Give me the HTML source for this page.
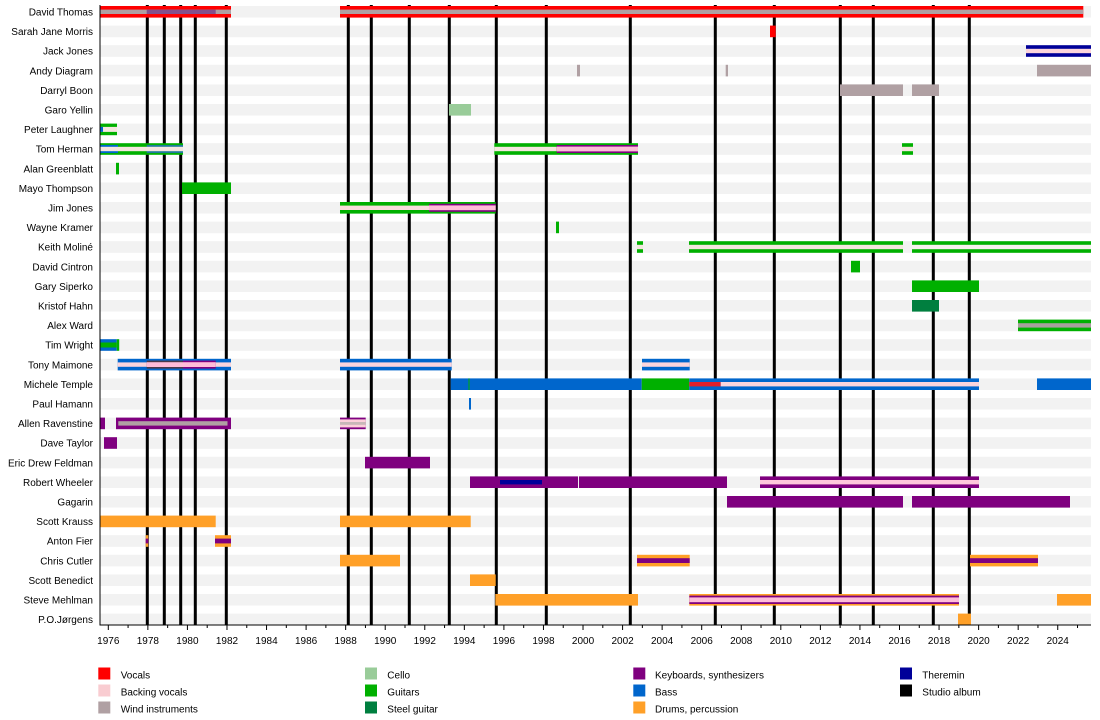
<!DOCTYPE html>
<html><head><meta charset="utf-8"><style>
html,body{margin:0;padding:0;background:#fff;}
svg{display:block;font-family:"Liberation Sans",Arial,sans-serif;}
</style></head><body>
<svg width="1100" height="720" viewBox="0 0 1100 720" xmlns="http://www.w3.org/2000/svg">
<rect x="0" y="0" width="1100" height="720" fill="#fff"/>
<!-- background bands -->
<g fill="#f2f2f2">
<rect x="100" y="6.0" width="991" height="11.6"/>
<rect x="100" y="25.6" width="991" height="11.6"/>
<rect x="100" y="45.2" width="991" height="11.6"/>
<rect x="100" y="64.8" width="991" height="11.6"/>
<rect x="100" y="84.4" width="991" height="11.6"/>
<rect x="100" y="104.0" width="991" height="11.6"/>
<rect x="100" y="123.6" width="991" height="11.6"/>
<rect x="100" y="143.2" width="991" height="11.6"/>
<rect x="100" y="162.8" width="991" height="11.6"/>
<rect x="100" y="182.4" width="991" height="11.6"/>
<rect x="100" y="202.0" width="991" height="11.6"/>
<rect x="100" y="221.6" width="991" height="11.6"/>
<rect x="100" y="241.2" width="991" height="11.6"/>
<rect x="100" y="260.8" width="991" height="11.6"/>
<rect x="100" y="280.4" width="991" height="11.6"/>
<rect x="100" y="300.0" width="991" height="11.6"/>
<rect x="100" y="319.6" width="991" height="11.6"/>
<rect x="100" y="339.2" width="991" height="11.6"/>
<rect x="100" y="358.8" width="991" height="11.6"/>
<rect x="100" y="378.4" width="991" height="11.6"/>
<rect x="100" y="398.0" width="991" height="11.6"/>
<rect x="100" y="417.6" width="991" height="11.6"/>
<rect x="100" y="437.2" width="991" height="11.6"/>
<rect x="100" y="456.8" width="991" height="11.6"/>
<rect x="100" y="476.4" width="991" height="11.6"/>
<rect x="100" y="496.0" width="991" height="11.6"/>
<rect x="100" y="515.6" width="991" height="11.6"/>
<rect x="100" y="535.2" width="991" height="11.6"/>
<rect x="100" y="554.8" width="991" height="11.6"/>
<rect x="100" y="574.4" width="991" height="11.6"/>
<rect x="100" y="594.0" width="991" height="11.6"/>
<rect x="100" y="613.6" width="991" height="11.6"/>
</g>
<!-- album lines -->
<g fill="#000">
<rect x="145.8" y="5" width="3" height="620"/>
<rect x="162.8" y="5" width="3" height="620"/>
<rect x="179.2" y="5" width="3" height="620"/>
<rect x="193.8" y="5" width="3" height="620"/>
<rect x="224.8" y="5" width="3" height="620"/>
<rect x="346.8" y="5" width="3" height="620"/>
<rect x="369.8" y="5" width="3" height="620"/>
<rect x="407.8" y="5" width="3" height="620"/>
<rect x="447.8" y="5" width="3" height="620"/>
<rect x="494.8" y="5" width="3" height="620"/>
<rect x="544.8" y="5" width="3" height="620"/>
<rect x="628.8" y="5" width="3" height="620"/>
<rect x="713.8" y="5" width="3" height="620"/>
<rect x="772.8" y="5" width="3" height="620"/>
<rect x="838.8" y="5" width="3" height="620"/>
<rect x="871.8" y="5" width="3" height="620"/>
<rect x="931.8" y="5" width="3" height="620"/>
<rect x="967.8" y="5" width="3" height="620"/>
</g>
<!-- bars -->
<!-- 0 David Thomas -->
<rect x="100.5" y="6.0" width="130.5" height="11.6" fill="#ff0000"/>
<rect x="100.5" y="9.6" width="130.5" height="4.4" fill="#b0a0a3"/>
<rect x="146.7" y="9.6" width="69" height="4.4" fill="#84508c"/>
<rect x="340" y="6.0" width="743.3" height="11.6" fill="#ff0000"/>
<rect x="340" y="9.6" width="743.3" height="4.4" fill="#b0a0a3"/>
<!-- 1 Sarah Jane Morris -->
<rect x="770" y="25.6" width="5.7" height="11.6" fill="#ff0000"/>
<!-- 2 Jack Jones -->
<rect x="1026" y="45.2" width="65" height="11.6" fill="#000099"/>
<rect x="1026" y="48.8" width="65" height="4.4" fill="#fcd5dc"/>
<!-- 3 Andy Diagram -->
<rect x="577" y="64.8" width="3" height="11.6" fill="#b0a0a3"/>
<rect x="725.7" y="64.8" width="2.3" height="11.6" fill="#b0a0a3"/>
<rect x="1037" y="64.8" width="54" height="11.6" fill="#b0a0a3"/>
<!-- 4 Darryl Boon -->
<rect x="840" y="84.4" width="63" height="11.6" fill="#b0a0a3"/>
<rect x="912" y="84.4" width="27" height="11.6" fill="#b0a0a3"/>
<!-- 5 Garo Yellin -->
<rect x="449" y="104.0" width="22" height="11.6" fill="#99cc99"/>
<!-- 6 Peter Laughner -->
<rect x="100.5" y="123.6" width="16.5" height="11.6" fill="#00b000"/>
<rect x="100.5" y="126.9" width="16.5" height="5" fill="#f5e6df"/>
<rect x="100.5" y="126.9" width="2.5" height="5" fill="#0066cc"/>
<!-- 7 Tom Herman -->
<rect x="100.5" y="143.2" width="82.5" height="11.6" fill="#00b000"/>
<rect x="100.5" y="145.0" width="17.5" height="8" fill="#0066cc"/>
<rect x="146.7" y="145.0" width="36.3" height="8" fill="#1f7a9a"/>
<rect x="100.5" y="146.8" width="82.5" height="4.4" fill="#f5e6df"/>
<rect x="494.3" y="143.2" width="143.7" height="11.6" fill="#00b000"/>
<rect x="494.3" y="146.8" width="62.4" height="4.4" fill="#f5e6df"/>
<rect x="556.7" y="145.0" width="81.3" height="8" fill="#7f007f"/>
<rect x="556.7" y="146.6" width="81.3" height="4.8" fill="#ffbcd8"/>
<rect x="902" y="143.2" width="11" height="11.6" fill="#00b000"/>
<rect x="902" y="146.8" width="11" height="4.4" fill="#f5e6df"/>
<!-- 8 Alan Greenblatt -->
<rect x="116" y="162.8" width="3" height="11.6" fill="#00b000"/>
<!-- 9 Mayo Thompson -->
<rect x="182" y="182.4" width="49" height="11.6" fill="#00b000"/>
<!-- 10 Jim Jones -->
<rect x="340" y="202.0" width="155.7" height="11.6" fill="#00b000"/>
<rect x="340" y="205.6" width="89" height="4.4" fill="#f8dcdc"/>
<rect x="429" y="203.8" width="66.7" height="8" fill="#7f007f"/>
<rect x="429" y="205.4" width="66.7" height="4.8" fill="#ffbcd8"/>
<!-- 11 Wayne Kramer -->
<rect x="556" y="221.6" width="3" height="11.6" fill="#00b000"/>
<!-- 12 Keith Moliné -->
<rect x="637" y="241.2" width="6" height="11.6" fill="#00b000"/>
<rect x="637" y="244.8" width="6" height="4.4" fill="#f5e6df"/>
<rect x="689" y="241.2" width="214" height="11.6" fill="#00b000"/>
<rect x="689" y="244.8" width="214" height="4.4" fill="#f5e6df"/>
<rect x="912" y="241.2" width="179" height="11.6" fill="#00b000"/>
<rect x="912" y="244.8" width="179" height="4.4" fill="#f7f1ee"/>
<!-- 13 David Cintron -->
<rect x="851" y="260.8" width="9" height="11.6" fill="#00b000"/>
<!-- 14 Gary Siperko -->
<rect x="912" y="280.4" width="67" height="11.6" fill="#00b000"/>
<!-- 15 Kristof Hahn -->
<rect x="912" y="300.0" width="27" height="11.6" fill="#007f3f"/>
<!-- 16 Alex Ward -->
<rect x="1018" y="319.6" width="73" height="11.6" fill="#00b000"/>
<rect x="1018" y="323.2" width="73" height="4.4" fill="#a8a09c"/>
<!-- 17 Tim Wright -->
<rect x="100.5" y="339.2" width="16.2" height="11.6" fill="#0066cc"/>
<rect x="100.5" y="342.5" width="16.2" height="5" fill="#00b000"/>
<rect x="116.7" y="339.2" width="2.5" height="11.6" fill="#00b000"/>
<!-- 18 Tony Maimone -->
<rect x="117.7" y="358.8" width="113.3" height="11.6" fill="#0066cc"/>
<rect x="117.7" y="362.4" width="113.3" height="4.4" fill="#fcd5dc"/>
<rect x="146.7" y="360.6" width="36.3" height="8" fill="#4a3a4a"/>
<rect x="183" y="360.6" width="32.7" height="8" fill="#7f007f"/>
<rect x="146.7" y="362.2" width="69" height="4.8" fill="#ffbcd8"/>
<rect x="340" y="358.8" width="111.7" height="11.6" fill="#0066cc"/>
<rect x="340" y="362.4" width="111.7" height="4.4" fill="#fcd5dc"/>
<rect x="642" y="358.8" width="47.7" height="11.6" fill="#0066cc"/>
<rect x="642" y="362.4" width="47.7" height="4.4" fill="#fcd5dc"/>
<!-- 19 Michele Temple -->
<rect x="450.7" y="378.4" width="191" height="11.6" fill="#0066cc"/>
<rect x="468.5" y="378.4" width="1" height="11.6" fill="#00b000"/>
<rect x="641.7" y="378.4" width="47.6" height="11.6" fill="#00b000"/>
<rect x="689.3" y="378.4" width="289.7" height="11.6" fill="#0066cc"/>
<rect x="689.3" y="382.0" width="31.4" height="4.4" fill="#e0202a"/>
<rect x="720.7" y="382.0" width="258.3" height="4.4" fill="#fcd5dc"/>
<rect x="1037" y="378.4" width="54" height="11.6" fill="#0066cc"/>
<!-- 20 Paul Hamann -->
<rect x="469" y="398.0" width="2" height="11.6" fill="#0066cc"/>
<!-- 21 Allen Ravenstine -->
<rect x="100.5" y="417.6" width="4.5" height="11.6" fill="#7f007f"/>
<rect x="116" y="417.6" width="115" height="11.6" fill="#7f007f"/>
<rect x="118.3" y="421.2" width="109.2" height="4.4" fill="#b0a0a3"/>
<rect x="340" y="417.6" width="25.7" height="11.6" fill="#7f007f"/>
<rect x="340" y="419.4" width="25.7" height="8" fill="#fcd0da"/>
<rect x="340" y="422.0" width="25.7" height="2.8" fill="#c8b8b8"/>
<!-- 22 Dave Taylor -->
<rect x="104" y="437.2" width="13" height="11.6" fill="#7f007f"/>
<!-- 23 Eric Drew Feldman -->
<rect x="365" y="456.8" width="65" height="11.6" fill="#7f007f"/>
<!-- 24 Robert Wheeler -->
<rect x="470" y="476.4" width="108" height="11.6" fill="#7f007f"/>
<rect x="579" y="476.4" width="148" height="11.6" fill="#7f007f"/>
<rect x="500" y="480.0" width="42" height="4.4" fill="#000099"/>
<rect x="760" y="476.4" width="219" height="11.6" fill="#7f007f"/>
<rect x="760" y="480.0" width="219" height="4.4" fill="#ffc8dc"/>
<!-- 25 Gagarin -->
<rect x="727" y="496.0" width="176" height="11.6" fill="#7f007f"/>
<rect x="912" y="496.0" width="158" height="11.6" fill="#7f007f"/>
<!-- 26 Scott Krauss -->
<rect x="100.5" y="515.6" width="115.2" height="11.6" fill="#ffa028"/>
<rect x="340" y="515.6" width="130.7" height="11.6" fill="#ffa028"/>
<!-- 27 Anton Fier -->
<rect x="145.7" y="535.2" width="2.6" height="11.6" fill="#ffa028"/>
<rect x="145.7" y="538.6" width="2.6" height="4.8" fill="#7f007f"/>
<rect x="215" y="535.2" width="16" height="11.6" fill="#ffa028"/>
<rect x="215" y="538.6" width="16" height="4.8" fill="#7f007f"/>
<!-- 28 Chris Cutler -->
<rect x="340" y="554.8" width="60" height="11.6" fill="#ffa028"/>
<rect x="637" y="554.8" width="52.7" height="11.6" fill="#ffa028"/>
<rect x="637" y="558.2" width="52.7" height="4.8" fill="#7f007f"/>
<rect x="970" y="554.8" width="68" height="11.6" fill="#ffa028"/>
<rect x="970" y="558.2" width="68" height="4.8" fill="#7f007f"/>
<!-- 29 Scott Benedict -->
<rect x="470" y="574.4" width="25.7" height="11.6" fill="#ffa028"/>
<!-- 30 Steve Mehlman -->
<rect x="495.3" y="594.0" width="142.7" height="11.6" fill="#ffa028"/>
<rect x="689.3" y="594.0" width="269.7" height="11.6" fill="#ffa028"/>
<rect x="689.3" y="595.6" width="269.7" height="8.4" fill="#7f007f"/>
<rect x="689.3" y="597.4" width="269.7" height="4.8" fill="#ffbcd8"/>
<rect x="1057" y="594.0" width="34" height="11.6" fill="#ffa028"/>
<!-- 31 P.O.Jørgens -->
<rect x="958" y="613.6" width="13" height="11.6" fill="#ffa028"/>

<!-- axes -->
<rect x="99.5" y="5" width="1" height="620.5" fill="#000"/>
<rect x="99.5" y="624.5" width="991.5" height="1" fill="#000"/>
<path stroke="#000" stroke-width="1" fill="none" d="
M108.3 625v5 M147.86 625v5 M187.42 625v5 M226.98 625v5 M266.54 625v5 M306.1 625v5 M345.66 625v5 M385.22 625v5 M424.78 625v5 M464.34 625v5 M503.9 625v5 M543.46 625v5 M583.02 625v5 M622.58 625v5 M662.14 625v5 M701.7 625v5 M741.26 625v5 M780.82 625v5 M820.38 625v5 M859.94 625v5 M899.5 625v5 M939.06 625v5 M978.62 625v5 M1018.18 625v5 M1057.74 625v5
M128.08 625v3 M167.64 625v3 M207.2 625v3 M246.76 625v3 M286.32 625v3 M325.88 625v3 M365.44 625v3 M405 625v3 M444.56 625v3 M484.12 625v3 M523.68 625v3 M563.24 625v3 M602.8 625v3 M642.36 625v3 M681.92 625v3 M721.48 625v3 M761.04 625v3 M800.6 625v3 M840.16 625v3 M879.72 625v3 M919.28 625v3 M958.84 625v3 M998.4 625v3 M1037.96 625v3 M1077.52 625v3"/>
<g font-size="10" fill="#000" text-anchor="middle">
<text x="108.3" y="644">1976</text>
<text x="147.86" y="644">1978</text>
<text x="187.42" y="644">1980</text>
<text x="226.98" y="644">1982</text>
<text x="266.54" y="644">1984</text>
<text x="306.1" y="644">1986</text>
<text x="345.66" y="644">1988</text>
<text x="385.22" y="644">1990</text>
<text x="424.78" y="644">1992</text>
<text x="464.34" y="644">1994</text>
<text x="503.9" y="644">1996</text>
<text x="543.46" y="644">1998</text>
<text x="583.02" y="644">2000</text>
<text x="622.58" y="644">2002</text>
<text x="662.14" y="644">2004</text>
<text x="701.7" y="644">2006</text>
<text x="741.26" y="644">2008</text>
<text x="780.82" y="644">2010</text>
<text x="820.38" y="644">2012</text>
<text x="859.94" y="644">2014</text>
<text x="899.5" y="644">2016</text>
<text x="939.06" y="644">2018</text>
<text x="978.62" y="644">2020</text>
<text x="1018.18" y="644">2022</text>
<text x="1057.74" y="644">2024</text>
</g>
<!-- row labels -->
<g font-size="10" fill="#000" text-anchor="end">
<text x="93" y="15.5">David Thomas</text>
<text x="93" y="35.1">Sarah Jane Morris</text>
<text x="93" y="54.7">Jack Jones</text>
<text x="93" y="74.3">Andy Diagram</text>
<text x="93" y="93.9">Darryl Boon</text>
<text x="93" y="113.5">Garo Yellin</text>
<text x="93" y="133.1">Peter Laughner</text>
<text x="93" y="152.7">Tom Herman</text>
<text x="93" y="172.3">Alan Greenblatt</text>
<text x="93" y="191.9">Mayo Thompson</text>
<text x="93" y="211.5">Jim Jones</text>
<text x="93" y="231.1">Wayne Kramer</text>
<text x="93" y="250.7">Keith Moliné</text>
<text x="93" y="270.3">David Cintron</text>
<text x="93" y="289.9">Gary Siperko</text>
<text x="93" y="309.5">Kristof Hahn</text>
<text x="93" y="329.1">Alex Ward</text>
<text x="93" y="348.7">Tim Wright</text>
<text x="93" y="368.3">Tony Maimone</text>
<text x="93" y="387.9">Michele Temple</text>
<text x="93" y="407.5">Paul Hamann</text>
<text x="93" y="427.1">Allen Ravenstine</text>
<text x="93" y="446.7">Dave Taylor</text>
<text x="93" y="466.3">Eric Drew Feldman</text>
<text x="93" y="485.9">Robert Wheeler</text>
<text x="93" y="505.5">Gagarin</text>
<text x="93" y="525.1">Scott Krauss</text>
<text x="93" y="544.7">Anton Fier</text>
<text x="93" y="564.3">Chris Cutler</text>
<text x="93" y="583.9">Scott Benedict</text>
<text x="93" y="603.5">Steve Mehlman</text>
<text x="93" y="623.1">P.O.Jørgens</text>
</g>
<!-- legend -->
<rect x="98.3" y="667.5" width="12" height="12" fill="#ff0000"/>
<rect x="98.3" y="684.5" width="12" height="12" fill="#f9ccd1"/>
<rect x="98.3" y="701.5" width="12" height="12" fill="#b0a0a3"/>
<rect x="365" y="667.5" width="12" height="12" fill="#99cc99"/>
<rect x="365" y="684.5" width="12" height="12" fill="#00b000"/>
<rect x="365" y="701.5" width="12" height="12" fill="#007f3f"/>
<rect x="633.3" y="667.5" width="12" height="12" fill="#7f007f"/>
<rect x="633.3" y="684.5" width="12" height="12" fill="#0066cc"/>
<rect x="633.3" y="701.5" width="12" height="12" fill="#ffa028"/>
<rect x="900" y="667.5" width="12" height="12" fill="#000099"/>
<rect x="900" y="684.5" width="12" height="12" fill="#000"/>
<g font-size="10" fill="#000">
<text x="120.7" y="678.6">Vocals</text>
<text x="120.7" y="695.6">Backing vocals</text>
<text x="120.7" y="712.6">Wind instruments</text>
<text x="387.3" y="678.6">Cello</text>
<text x="387.3" y="695.6">Guitars</text>
<text x="387.3" y="712.6">Steel guitar</text>
<text x="655" y="678.6">Keyboards, synthesizers</text>
<text x="655" y="695.6">Bass</text>
<text x="655" y="712.6">Drums, percussion</text>
<text x="922.3" y="678.6">Theremin</text>
<text x="922.3" y="695.6">Studio album</text>
</g>
</svg>
</body></html>
